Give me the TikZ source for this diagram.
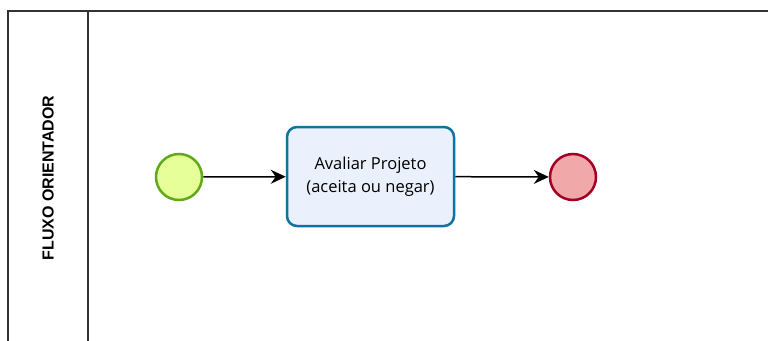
\documentclass[tikz,border=0pt]{standalone}
\usepackage{fontspec}
\setmainfont{Open Sans}
\newfontfamily\lanefont{Liberation Sans}
\usetikzlibrary{arrows.meta}
\definecolor{startfill}{HTML}{E6FF99}
\definecolor{startdraw}{HTML}{60A917}
\definecolor{taskfill}{HTML}{EAF0FC}
\definecolor{taskdraw}{HTML}{10739E}
\definecolor{endfill}{HTML}{F0A8A8}
\definecolor{enddraw}{HTML}{A20025}
\tikzset{
	event/.style={circle, minimum size=46pt, inner sep=0pt, line width=2.5pt},
	task/.style={rounded corners=10pt, minimum width=167pt, minimum height=99pt, line width=2.5pt, fill=taskfill, draw=taskdraw, align=center, font=\fontsize{16.5}{23}\selectfont},
	flow/.style={line width=1.5pt, -{Stealth[length=15pt, width=14pt, inset=5pt]}}
}
\begin{document}
\begin{tikzpicture}[x=1pt, y=-1pt]
			\useasboundingbox (0,0) rectangle (768,340);
			\fill[white] (0,0) rectangle (768,340);
			% pool and lane
			\draw[line width=1.5pt, draw=black!80] (8,360) -- (8,11) -- (790,11);
			\draw[line width=1.5pt, draw=black!80] (88,11) -- (88,360);
			\node[rotate=90, font=\lanefont\bfseries\fontsize{16}{18}\selectfont] (lane) at (48,178) {FLUXO ORIENTADOR};
			% events and task
			\node[event, fill=startfill, draw=startdraw] (start) at (179,177) {};
			\node[task] (avaliar) at (370.5,176.5) {Avaliar Projeto\\(aceita ou negar)};
			\node[event, fill=endfill, draw=enddraw] (fim) at (573,177) {};
			\foreach \a/\b in {start/avaliar, avaliar/fim} {
					\draw[flow] (\a) -- (\b);
				}
		\end{tikzpicture}
\end{document}
